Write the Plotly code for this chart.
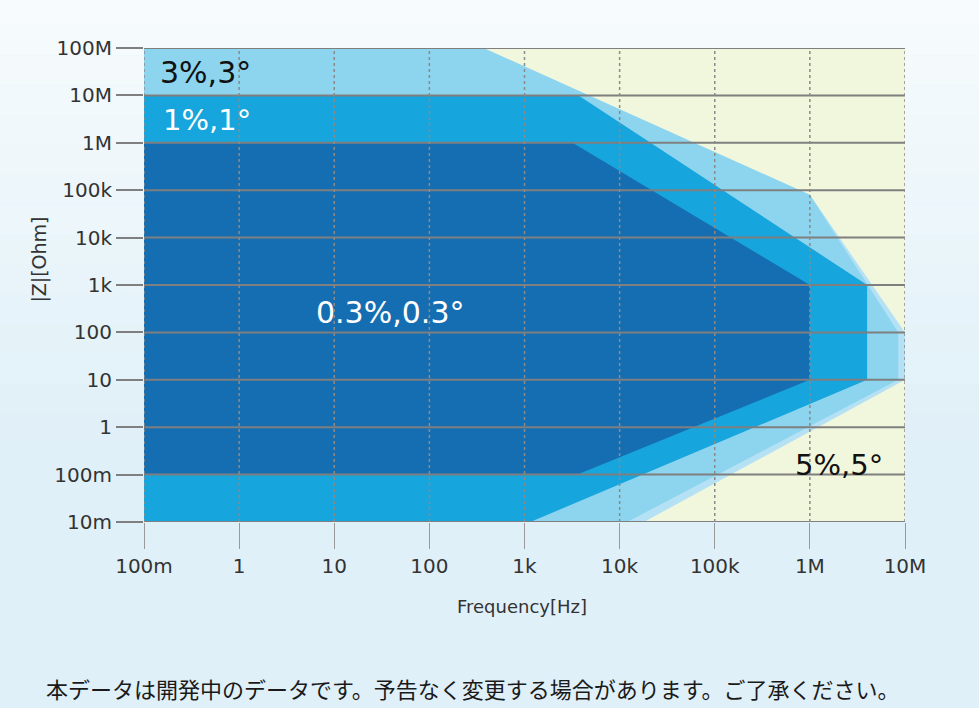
import plotly.graph_objects as go

# ---- data ----
freq_ticks = [1e-1, 1, 1e1, 1e2, 1e3, 1e4, 1e5, 1e6, 1e7]
freq_labels = ["100m", "1", "10", "100", "1k", "10k", "100k", "1M", "10M"]
imp_ticks = [1e-2, 1e-1, 1, 1e1, 1e2, 1e3, 1e4, 1e5, 1e6, 1e7, 1e8]
imp_labels = ["10m", "100m", "1", "10", "100", "1k", "10k", "100k", "1M", "10M", "100M"]

# accuracy regions (frequency [Hz], |Z| [Ohm]) polygons
full_f = [1e-1, 1e7, 1e7, 1e-1]
full_z = [1e8, 1e8, 1e-2, 1e-2]
pale_f = [1e-1, 370, 1e6, 1e7, 1e7, 1.8e4, 1e-1]
pale_z = [1e8, 1e8, 8e4, 100, 10, 1e-2, 1e-2]
light_f = [1e-1, 370, 1e6, 8.5e6, 8.5e6, 1.2e4, 1e-1]
light_z = [1e8, 1e8, 8e4, 100, 10, 1e-2, 1e-2]
medium_f = [1e-1, 3.7e3, 4e6, 4e6, 1.15e3, 1e-1]
medium_z = [1e7, 1e7, 1e3, 10, 1e-2, 1e-2]
dark_f = [1e-1, 3.2e3, 1e6, 1e6, 3.6e3, 1e-1]
dark_z = [1e6, 1e6, 1e3, 10, 1e-1, 1e-1]

region_labels = ["3%,3°", "1%,1°", "0.3%,0.3°", "5%,5°"]

FONT = "DejaVu Sans"
fig = go.Figure()

def poly(xs, zs, color):
    fig.add_trace(go.Scatter(x=xs + [xs[0]], y=zs + [zs[0]], mode="lines",
                             fill="toself", fillcolor=color,
                             line=dict(width=0, color=color),
                             hoverinfo="skip", showlegend=False))

poly(full_f, full_z, "#F1F7DC")
poly(pale_f, pale_z, "#B5E1F5")
poly(light_f, light_z, "#8DD5EF")
poly(medium_f, medium_z, "#17A5DD")
poly(dark_f, dark_z, "#166EB2")

# grid lines on top of the regions
for z in imp_ticks:
    fig.add_trace(go.Scatter(x=[freq_ticks[0], freq_ticks[-1]], y=[z, z], mode="lines",
                             line=dict(color="#7f7f7f", width=2),
                             hoverinfo="skip", showlegend=False))
for f in freq_ticks:
    fig.add_trace(go.Scatter(x=[f, f], y=[imp_ticks[0], imp_ticks[-1]], mode="lines",
                             line=dict(color="#8a8a8a", width=1.5, dash="dot"),
                             hoverinfo="skip", showlegend=False))

# page background gradient
shapes = []
n = 24
top = (247, 251, 253)
bot = (224, 240, 248)
for i in range(n):
    t = i / (n - 1)
    c = tuple(int(round(top[k] + (bot[k] - top[k]) * min(1, t * 1.6))) for k in range(3))
    y0 = 1.11 - (1.11 + 0.40) * i / n
    y1 = 1.11 - (1.11 + 0.40) * (i + 1) / n
    shapes.append(dict(type="rect", xref="paper", yref="paper", x0=-0.2, x1=1.1,
                       y0=y1, y1=y0, fillcolor="rgb(%d,%d,%d)" % c,
                       line=dict(width=0), layer="below"))

def ann(x, y, text, size, color, ref="x", family=FONT, angle=0):
    return dict(x=x, y=y, xref=ref if ref == "paper" else "x",
                yref=ref if ref == "paper" else "y", text=text, showarrow=False,
                xanchor="center", yanchor="middle", textangle=angle,
                font=dict(family=family, size=size, color=color))

annotations = [
    ann(-0.35, 7.49, region_labels[0], 30, "#111111"),
    ann(-0.34, 6.48, region_labels[1], 29, "#ffffff"),
    ann(1.59, 2.43, region_labels[2], 30, "#ffffff"),
    ann(6.31, -0.80, region_labels[3], 29, "#111111"),
    ann(0.497, -0.179, "Frequency[Hz]", 18, "#333333", ref="paper"),
    ann(-0.137, 0.553, "|Z|[Ohm]", 19, "#333333", ref="paper", angle=-90),
    ann(0.432, -0.350,
        "本データは開発中のデータです。予告なく変更する場合があります。ご了承ください。",
        22, "#1a1a1a", ref="paper", family="Noto Sans CJK JP"),
]

fig.update_layout(
    width=979, height=708,
    margin=dict(l=144, r=74, t=48, b=186),
    paper_bgcolor="#E4F2F9", plot_bgcolor="rgba(0,0,0,0)",
    showlegend=False, shapes=shapes, annotations=annotations,
    xaxis=dict(type="log", range=[-1, 7], tickvals=freq_ticks, ticktext=freq_labels,
               showgrid=False, zeroline=False, showline=False,
               ticks="outside", ticklen=26, tickwidth=1, tickcolor="#9a9a9a",
               tickfont=dict(family=FONT, size=20, color="#333333")),
    yaxis=dict(type="log", range=[-2, 8], tickvals=imp_ticks, ticktext=imp_labels,
               showgrid=False, zeroline=False, showline=False,
               ticks="outside", ticklen=27, tickwidth=1.5, tickcolor="#7f7f7f",
               tickfont=dict(family=FONT, size=20, color="#333333")),
)

fig.write_html("out.html")
